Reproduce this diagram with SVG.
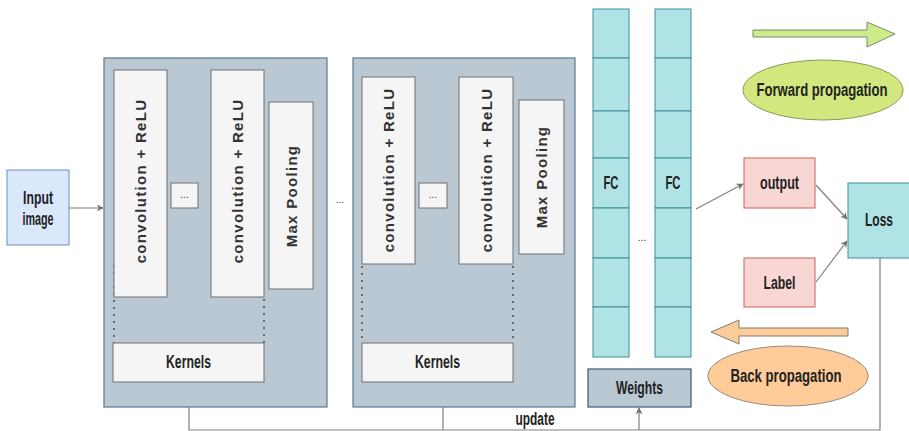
<svg xmlns="http://www.w3.org/2000/svg" width="909" height="431" viewBox="0 0 909 431">
<defs>
<marker id="ah" viewBox="0 0 10 10" refX="9" refY="5" markerWidth="7" markerHeight="7" orient="auto" markerUnits="userSpaceOnUse">
<path d="M0,0 L10,5 L0,10 L3,5 z" fill="#707070"/>
</marker>
<style>
.stage{fill:#bac8d3;stroke:#5a7891;stroke-width:1.2}
.inner{fill:#f5f5f5;stroke:#707070;stroke-width:1}
.fc{fill:#b0e3e6;stroke:#3c8f96;stroke-width:1}
.pink{fill:#f8d6d4;stroke:#d0605a;stroke-width:1}
.conn{fill:none;stroke:#808080;stroke-width:1.2}
.dot{fill:none;stroke:#6a6a6a;stroke-width:2;stroke-dasharray:2,5}
.vt{font-family:"Liberation Sans",Arial,sans-serif;font-weight:bold;font-size:15px;letter-spacing:1.3px;fill:#333;text-anchor:middle;dominant-baseline:central}
.lb{font-family:"Liberation Sans",Arial,sans-serif;font-weight:bold;font-size:17.5px;fill:#222;text-anchor:middle;dominant-baseline:central}
.sm{font-family:"Liberation Sans",Arial,sans-serif;font-size:10px;fill:#333;text-anchor:middle}
</style>
</defs>
<rect width="909" height="431" fill="#ffffff"/>

<g id="connectors">
<line class="conn" x1="69" y1="208" x2="103" y2="208" marker-end="url(#ah)"/>
<polyline class="conn" points="880,258 880,430 189,430 189,383" marker-end="url(#ah)"/>
<line class="conn" x1="443" y1="430" x2="443" y2="383" marker-end="url(#ah)"/>
<line class="conn" x1="639" y1="430" x2="639" y2="408" marker-end="url(#ah)"/>
<line class="conn" x1="696" y1="209" x2="743" y2="184" marker-end="url(#ah)"/>
<line class="conn" x1="816" y1="185" x2="847" y2="219" marker-end="url(#ah)"/>
<line class="conn" x1="816" y1="282" x2="847" y2="241" marker-end="url(#ah)"/>
</g>

<g id="input-image">
<rect x="7" y="170" width="62" height="75" fill="#dae8fc" stroke="#6c8ebf" stroke-width="1"/>
<text class="lb" x="38" y="198" textLength="30" lengthAdjust="spacingAndGlyphs">Input</text>
<text class="lb" x="38" y="219" textLength="31" lengthAdjust="spacingAndGlyphs">image</text>
</g>

<g id="stage1">
<rect class="stage" x="104" y="58" width="223" height="349"/>
<line class="dot" x1="114" y1="265" x2="114" y2="343"/>
<line class="dot" x1="264" y1="299" x2="264" y2="343"/>
<g id="conv1a"><rect class="inner" x="114" y="70" width="53" height="227"/><text class="vt" transform="translate(140.5,181) rotate(-90)">convolution + ReLU</text></g>
<g id="dots1"><rect class="inner" x="171" y="183" width="27" height="25"/><text class="sm" x="184.5" y="198">...</text></g>
<g id="conv1b"><rect class="inner" x="211" y="70" width="53" height="227"/><text class="vt" transform="translate(237.5,181) rotate(-90)">convolution + ReLU</text></g>
<g id="pool1"><rect class="inner" x="269" y="102" width="44" height="187"/><text class="vt" transform="translate(291,196) rotate(-90)">Max Pooling</text></g>
<g id="kernels1"><rect class="inner" x="113" y="343" width="151" height="39"/><text class="lb" x="188.5" y="362" textLength="45" lengthAdjust="spacingAndGlyphs">Kernels</text></g>
</g>

<g id="between-dots"><text class="sm" x="340" y="203">...</text></g>

<g id="stage2">
<rect class="stage" x="353" y="58" width="222" height="349"/>
<line class="dot" x1="362" y1="266" x2="362" y2="343"/>
<line class="dot" x1="513" y1="266" x2="513" y2="343"/>
<g id="conv2a"><rect class="inner" x="362" y="77" width="53" height="187"/><text class="vt" transform="translate(388.5,170) rotate(-90)">convolution + ReLU</text></g>
<g id="dots2"><rect class="inner" x="419" y="183" width="28" height="25"/><text class="sm" x="433" y="198">...</text></g>
<g id="conv2b"><rect class="inner" x="459" y="77" width="54" height="187"/><text class="vt" transform="translate(486,170) rotate(-90)">convolution + ReLU</text></g>
<g id="pool2"><rect class="inner" x="519" y="100" width="45" height="154"/><text class="vt" transform="translate(541.5,177) rotate(-90)">Max Pooling</text></g>
<g id="kernels2"><rect class="inner" x="362" y="343" width="151" height="39"/><text class="lb" x="437.5" y="362" textLength="45" lengthAdjust="spacingAndGlyphs">Kernels</text></g>
</g>

<g id="fc1">
<rect class="fc" x="593" y="9" width="36" height="49"/>
<rect class="fc" x="593" y="58" width="36" height="53"/>
<rect class="fc" x="593" y="111" width="36" height="47"/>
<rect class="fc" x="593" y="158" width="36" height="50"/>
<rect class="fc" x="593" y="208" width="36" height="50"/>
<rect class="fc" x="593" y="258" width="36" height="49"/>
<rect class="fc" x="593" y="307" width="36" height="50"/>
<text class="lb" x="611" y="183" textLength="15" lengthAdjust="spacingAndGlyphs">FC</text>
</g>
<g id="fc-dots"><text class="sm" x="642" y="241">...</text></g>
<g id="fc2">
<rect class="fc" x="655" y="9" width="36" height="49"/>
<rect class="fc" x="655" y="58" width="36" height="53"/>
<rect class="fc" x="655" y="111" width="36" height="47"/>
<rect class="fc" x="655" y="158" width="36" height="50"/>
<rect class="fc" x="655" y="208" width="36" height="50"/>
<rect class="fc" x="655" y="258" width="36" height="49"/>
<rect class="fc" x="655" y="307" width="36" height="50"/>
<text class="lb" x="673" y="183" textLength="15" lengthAdjust="spacingAndGlyphs">FC</text>
</g>

<g id="weights">
<rect x="588" y="369" width="103" height="38" fill="#bac8d3" stroke="#3d5a73" stroke-width="1.2"/>
<text class="lb" x="639.5" y="388" textLength="47" lengthAdjust="spacingAndGlyphs">Weights</text>
</g>

<g id="forward-arrow">
<polygon points="753,30 867,30 867,22 895,34 867,47 867,37 753,37" fill="#cdeb8b" stroke="#7a8a70" stroke-width="1"/>
</g>
<g id="forward-propagation">
<ellipse cx="823" cy="90" rx="80" ry="30" fill="#d2e87e" stroke="#8a9a60" stroke-width="1"/>
<text class="lb" x="822" y="90" textLength="131" lengthAdjust="spacingAndGlyphs">Forward propagation</text>
</g>

<g id="output">
<rect class="pink" x="744" y="158" width="71" height="50"/>
<text class="lb" x="779.5" y="183" textLength="39" lengthAdjust="spacingAndGlyphs">output</text>
</g>
<g id="label">
<rect class="pink" x="744" y="258" width="71" height="49"/>
<text class="lb" x="779.5" y="283" textLength="32" lengthAdjust="spacingAndGlyphs">Label</text>
</g>
<g id="loss">
<rect x="848" y="183" width="62" height="75" fill="#b0e3e6" stroke="#3c8f96" stroke-width="1"/>
<text class="lb" x="879" y="220" textLength="28" lengthAdjust="spacingAndGlyphs">Loss</text>
</g>

<g id="back-arrow">
<polygon points="848,328 739,328 739,320 711,332 739,344 739,336 848,336" fill="#f9cc9a" stroke="#8a7a6a" stroke-width="1"/>
</g>
<g id="back-propagation">
<ellipse cx="788" cy="376" rx="80" ry="30" fill="#ffcc99" stroke="#9a8a7a" stroke-width="1"/>
<text class="lb" x="786" y="376" textLength="111" lengthAdjust="spacingAndGlyphs">Back propagation</text>
</g>

<g id="update-label"><text class="lb" x="535" y="419" textLength="39" lengthAdjust="spacingAndGlyphs">update</text></g>
</svg>
